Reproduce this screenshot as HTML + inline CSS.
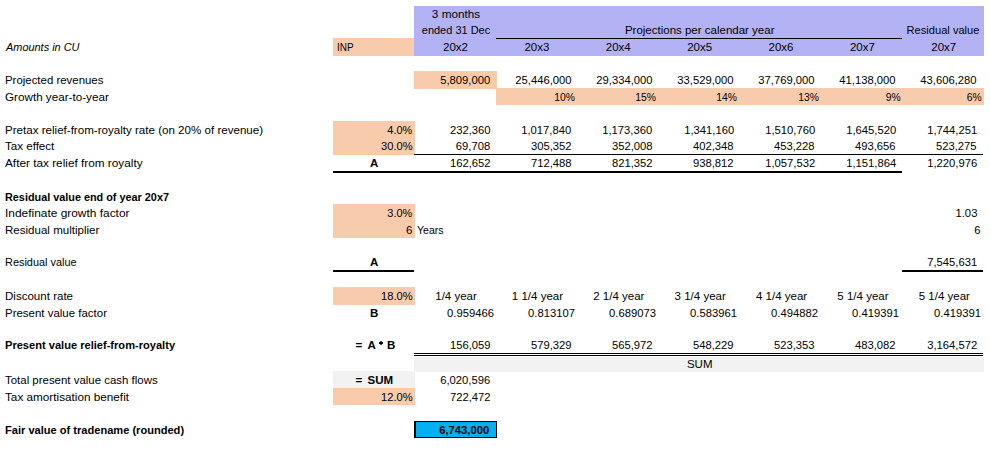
<!DOCTYPE html><html><head><meta charset="utf-8"><style>
html,body{margin:0;padding:0;background:#fff;width:990px;height:466px;overflow:hidden;position:relative}
.r{position:absolute}
.t{position:absolute;height:0;line-height:0;white-space:pre;font-family:"Liberation Sans",sans-serif;font-size:11.5px;color:#000}
</style></head><body>
<div class="r" style="left:414px;top:6px;width:570px;height:50px;background:#B2B2F5"></div>
<div class="r" style="left:333px;top:38px;width:81px;height:18px;background:#F8CBAD"></div>
<div class="r" style="left:414px;top:71px;width:83px;height:18px;background:#F8CBAD"></div>
<div class="r" style="left:496px;top:88px;width:488px;height:17px;background:#F8CBAD"></div>
<div class="r" style="left:333px;top:121px;width:82px;height:34px;background:#F8CBAD"></div>
<div class="r" style="left:333px;top:204px;width:82px;height:34px;background:#F8CBAD"></div>
<div class="r" style="left:333px;top:287px;width:82px;height:18px;background:#F8CBAD"></div>
<div class="r" style="left:414px;top:357px;width:570px;height:15px;background:#F2F2F2"></div>
<div class="r" style="left:333px;top:371px;width:82px;height:17px;background:#F2F2F2"></div>
<div class="r" style="left:333px;top:388px;width:82px;height:17px;background:#F8CBAD"></div>
<div class="r" style="left:496px;top:38px;width:406px;height:1px;background:#000"></div>
<div class="r" style="left:414px;top:154px;width:569px;height:1px;background:#000"></div>
<div class="r" style="left:333px;top:171px;width:569px;height:2px;background:#000"></div>
<div class="r" style="left:333px;top:270px;width:81px;height:2px;background:#000"></div>
<div class="r" style="left:902px;top:270px;width:81px;height:2px;background:#000"></div>
<div class="r" style="left:414px;top:353px;width:569px;height:1px;background:#000"></div>
<div class="r" style="left:414px;top:355px;width:569px;height:1px;background:#000"></div>
<div class="r" style="left:414px;top:421px;width:83px;height:17px;background:#000"></div>
<div class="r" style="left:416px;top:422px;width:80px;height:15px;background:#00B0F0"></div>
<div class="r" style="left:380px;top:341px;width:2px;height:4px;background:#555"></div>
<div class="r" style="left:379px;top:342px;width:4px;height:2px;background:#000"></div>
<div class="t" style="left:5.60px;top:46.92px;font-style:italic;transform:scaleX(0.950);transform-origin:left">Amounts in CU</div>
<div class="t" style="left:4.60px;top:79.92px;;transform:scaleX(0.993);transform-origin:left">Projected revenues</div>
<div class="t" style="left:4.60px;top:97.02px;;transform:scaleX(1.015);transform-origin:left">Growth year-to-year</div>
<div class="t" style="left:4.60px;top:130.32px;;transform:scaleX(1.007);transform-origin:left">Pretax relief-from-royalty rate (on 20% of revenue)</div>
<div class="t" style="left:4.60px;top:146.02px;;transform:scaleX(1.006);transform-origin:left">Tax effect</div>
<div class="t" style="left:4.60px;top:163.02px;;transform:scaleX(1.025);transform-origin:left">After tax relief from royalty</div>
<div class="t" style="left:4.60px;top:196.72px;font-weight:bold;transform:scaleX(0.943);transform-origin:left">Residual value end of year 20x7</div>
<div class="t" style="left:4.60px;top:213.02px;;transform:scaleX(1.036);transform-origin:left">Indefinate growth factor</div>
<div class="t" style="left:4.60px;top:229.62px;;transform:scaleX(1.004);transform-origin:left">Residual multiplier</div>
<div class="t" style="left:4.60px;top:262.02px;;transform:scaleX(0.949);transform-origin:left">Residual value</div>
<div class="t" style="left:4.60px;top:296.02px;;transform:scaleX(1.004);transform-origin:left">Discount rate</div>
<div class="t" style="left:4.60px;top:313.02px;;transform:scaleX(0.997);transform-origin:left">Present value factor</div>
<div class="t" style="left:4.60px;top:345.02px;font-weight:bold;transform:scaleX(0.964);transform-origin:left">Present value relief-from-royalty</div>
<div class="t" style="left:4.60px;top:380.02px;;transform:scaleX(0.995);transform-origin:left">Total present value cash flows</div>
<div class="t" style="left:4.60px;top:397.02px;;transform:scaleX(1.021);transform-origin:left">Tax amortisation benefit</div>
<div class="t" style="left:4.60px;top:430.02px;font-weight:bold;transform:scaleX(0.963);transform-origin:left">Fair value of tradename (rounded)</div>
<div class="t" style="left:336.50px;top:46.92px;;transform:scaleX(0.860);transform-origin:left">INP</div>
<div class="t" style="right:577.62px;top:130.32px;;transform:scaleX(0.950);transform-origin:right">4.0%</div>
<div class="t" style="right:577.62px;top:146.02px;;transform:scaleX(0.970);transform-origin:right">30.0%</div>
<div class="t" style="left:374.19px;width:0;display:flex;justify-content:center;top:163.02px;font-weight:bold"><span>A</span></div>
<div class="t" style="right:577.62px;top:213.02px;;transform:scaleX(0.950);transform-origin:right">3.0%</div>
<div class="t" style="right:577.62px;top:229.62px;">6</div>
<div class="t" style="left:374.19px;width:0;display:flex;justify-content:center;top:262.02px;font-weight:bold"><span>A</span></div>
<div class="t" style="right:577.62px;top:296.02px;;transform:scaleX(0.970);transform-origin:right">18.0%</div>
<div class="t" style="left:374.19px;width:0;display:flex;justify-content:center;top:313.02px;font-weight:bold"><span>B</span></div>
<div class="t" style="left:355.50px;top:345.02px;font-weight:bold">=</div>
<div class="t" style="left:367.50px;top:345.02px;font-weight:bold">A</div>
<div class="t" style="left:387.00px;top:345.02px;font-weight:bold">B</div>
<div class="t" style="left:355.50px;top:380.02px;font-weight:bold">=</div>
<div class="t" style="left:367.50px;top:380.02px;font-weight:bold">SUM</div>
<div class="t" style="right:577.62px;top:397.02px;;transform:scaleX(0.970);transform-origin:right">12.0%</div>
<div class="t" style="left:456.06px;width:0;display:flex;justify-content:center;top:13.62px;;transform:scaleX(1.020);transform-origin:center"><span>3 months</span></div>
<div class="t" style="left:455.86px;width:0;display:flex;justify-content:center;top:29.72px;;transform:scaleX(0.955);transform-origin:center"><span>ended 31 Dec</span></div>
<div class="t" style="left:455.56px;width:0;display:flex;justify-content:center;top:46.92px;"><span>20x2</span></div>
<div class="t" style="left:536.94px;width:0;display:flex;justify-content:center;top:46.92px;"><span>20x3</span></div>
<div class="t" style="left:618.31px;width:0;display:flex;justify-content:center;top:46.92px;"><span>20x4</span></div>
<div class="t" style="left:699.69px;width:0;display:flex;justify-content:center;top:46.92px;"><span>20x5</span></div>
<div class="t" style="left:781.06px;width:0;display:flex;justify-content:center;top:46.92px;"><span>20x6</span></div>
<div class="t" style="left:862.44px;width:0;display:flex;justify-content:center;top:46.92px;"><span>20x7</span></div>
<div class="t" style="left:943.81px;width:0;display:flex;justify-content:center;top:46.92px;"><span>20x7</span></div>
<div class="t" style="left:699.69px;width:0;display:flex;justify-content:center;top:29.72px;"><span>Projections per calendar year</span></div>
<div class="t" style="left:943.31px;width:0;display:flex;justify-content:center;top:29.72px;;transform:scaleX(0.966);transform-origin:center"><span>Residual value</span></div>
<div class="t" style="right:499.70px;top:79.92px;;transform:scaleX(0.978);transform-origin:right">5,809,000</div>
<div class="t" style="right:418.58px;top:79.92px;;transform:scaleX(0.978);transform-origin:right">25,446,000</div>
<div class="t" style="right:337.46px;top:79.92px;;transform:scaleX(0.978);transform-origin:right">29,334,000</div>
<div class="t" style="right:256.34px;top:79.92px;;transform:scaleX(0.978);transform-origin:right">33,529,000</div>
<div class="t" style="right:175.22px;top:79.92px;;transform:scaleX(0.978);transform-origin:right">37,769,000</div>
<div class="t" style="right:94.10px;top:79.92px;;transform:scaleX(0.978);transform-origin:right">41,138,000</div>
<div class="t" style="right:12.98px;top:79.92px;;transform:scaleX(0.978);transform-origin:right">43,606,280</div>
<div class="t" style="right:415.38px;top:97.02px;;transform:scaleX(0.900);transform-origin:right">10%</div>
<div class="t" style="right:334.00px;top:97.02px;;transform:scaleX(0.900);transform-origin:right">15%</div>
<div class="t" style="right:252.62px;top:97.02px;;transform:scaleX(0.900);transform-origin:right">14%</div>
<div class="t" style="right:171.25px;top:97.02px;;transform:scaleX(0.900);transform-origin:right">13%</div>
<div class="t" style="right:89.88px;top:97.02px;;transform:scaleX(0.900);transform-origin:right">9%</div>
<div class="t" style="right:8.50px;top:97.02px;;transform:scaleX(0.900);transform-origin:right">6%</div>
<div class="t" style="right:499.70px;top:130.32px;;transform:scaleX(0.978);transform-origin:right">232,360</div>
<div class="t" style="right:418.58px;top:130.32px;;transform:scaleX(0.978);transform-origin:right">1,017,840</div>
<div class="t" style="right:337.46px;top:130.32px;;transform:scaleX(0.978);transform-origin:right">1,173,360</div>
<div class="t" style="right:256.34px;top:130.32px;;transform:scaleX(0.978);transform-origin:right">1,341,160</div>
<div class="t" style="right:175.22px;top:130.32px;;transform:scaleX(0.978);transform-origin:right">1,510,760</div>
<div class="t" style="right:94.10px;top:130.32px;;transform:scaleX(0.978);transform-origin:right">1,645,520</div>
<div class="t" style="right:12.98px;top:130.32px;;transform:scaleX(0.978);transform-origin:right">1,744,251</div>
<div class="t" style="right:499.70px;top:146.02px;;transform:scaleX(0.978);transform-origin:right">69,708</div>
<div class="t" style="right:418.58px;top:146.02px;;transform:scaleX(0.978);transform-origin:right">305,352</div>
<div class="t" style="right:337.46px;top:146.02px;;transform:scaleX(0.978);transform-origin:right">352,008</div>
<div class="t" style="right:256.34px;top:146.02px;;transform:scaleX(0.978);transform-origin:right">402,348</div>
<div class="t" style="right:175.22px;top:146.02px;;transform:scaleX(0.978);transform-origin:right">453,228</div>
<div class="t" style="right:94.10px;top:146.02px;;transform:scaleX(0.978);transform-origin:right">493,656</div>
<div class="t" style="right:12.98px;top:146.02px;;transform:scaleX(0.978);transform-origin:right">523,275</div>
<div class="t" style="right:499.70px;top:163.02px;;transform:scaleX(0.978);transform-origin:right">162,652</div>
<div class="t" style="right:418.58px;top:163.02px;;transform:scaleX(0.978);transform-origin:right">712,488</div>
<div class="t" style="right:337.46px;top:163.02px;;transform:scaleX(0.978);transform-origin:right">821,352</div>
<div class="t" style="right:256.34px;top:163.02px;;transform:scaleX(0.978);transform-origin:right">938,812</div>
<div class="t" style="right:175.22px;top:163.02px;;transform:scaleX(0.978);transform-origin:right">1,057,532</div>
<div class="t" style="right:94.10px;top:163.02px;;transform:scaleX(0.978);transform-origin:right">1,151,864</div>
<div class="t" style="right:12.98px;top:163.02px;;transform:scaleX(0.978);transform-origin:right">1,220,976</div>
<div class="t" style="right:12.98px;top:213.02px;;transform:scaleX(0.978);transform-origin:right">1.03</div>
<div class="t" style="right:9.30px;top:229.62px;;transform:scaleX(0.978);transform-origin:right">6</div>
<div class="t" style="left:416.57px;top:229.62px;;transform:scaleX(0.915);transform-origin:left">Years</div>
<div class="t" style="right:12.98px;top:262.02px;;transform:scaleX(0.978);transform-origin:right">7,545,631</div>
<div class="t" style="left:456.06px;width:0;display:flex;justify-content:center;top:296.02px;"><span>1/4 year</span></div>
<div class="t" style="left:537.44px;width:0;display:flex;justify-content:center;top:296.02px;"><span>1 1/4 year</span></div>
<div class="t" style="left:618.81px;width:0;display:flex;justify-content:center;top:296.02px;"><span>2 1/4 year</span></div>
<div class="t" style="left:700.19px;width:0;display:flex;justify-content:center;top:296.02px;"><span>3 1/4 year</span></div>
<div class="t" style="left:781.56px;width:0;display:flex;justify-content:center;top:296.02px;"><span>4 1/4 year</span></div>
<div class="t" style="left:862.94px;width:0;display:flex;justify-content:center;top:296.02px;"><span>5 1/4 year</span></div>
<div class="t" style="left:944.31px;width:0;display:flex;justify-content:center;top:296.02px;"><span>5 1/4 year</span></div>
<div class="t" style="right:495.80px;top:313.02px;;transform:scaleX(0.978);transform-origin:right">0.959466</div>
<div class="t" style="right:414.75px;top:313.02px;;transform:scaleX(0.978);transform-origin:right">0.813107</div>
<div class="t" style="right:333.70px;top:313.02px;;transform:scaleX(0.978);transform-origin:right">0.689073</div>
<div class="t" style="right:252.65px;top:313.02px;;transform:scaleX(0.978);transform-origin:right">0.583961</div>
<div class="t" style="right:171.60px;top:313.02px;;transform:scaleX(0.978);transform-origin:right">0.494882</div>
<div class="t" style="right:90.55px;top:313.02px;;transform:scaleX(0.978);transform-origin:right">0.419391</div>
<div class="t" style="right:9.50px;top:313.02px;;transform:scaleX(0.978);transform-origin:right">0.419391</div>
<div class="t" style="right:499.70px;top:345.02px;;transform:scaleX(0.978);transform-origin:right">156,059</div>
<div class="t" style="right:418.58px;top:345.02px;;transform:scaleX(0.978);transform-origin:right">579,329</div>
<div class="t" style="right:337.46px;top:345.02px;;transform:scaleX(0.978);transform-origin:right">565,972</div>
<div class="t" style="right:256.34px;top:345.02px;;transform:scaleX(0.978);transform-origin:right">548,229</div>
<div class="t" style="right:175.22px;top:345.02px;;transform:scaleX(0.978);transform-origin:right">523,353</div>
<div class="t" style="right:94.10px;top:345.02px;;transform:scaleX(0.978);transform-origin:right">483,082</div>
<div class="t" style="right:12.98px;top:345.02px;;transform:scaleX(0.978);transform-origin:right">3,164,572</div>
<div class="t" style="left:699.69px;width:0;display:flex;justify-content:center;top:364.02px;"><span>SUM</span></div>
<div class="t" style="right:499.70px;top:380.02px;;transform:scaleX(0.978);transform-origin:right">6,020,596</div>
<div class="t" style="right:499.70px;top:397.02px;;transform:scaleX(0.978);transform-origin:right">722,472</div>
<div class="t" style="right:500.40px;top:430.02px;font-weight:bold;transform:scaleX(0.978);transform-origin:right">6,743,000</div>
</body></html>
